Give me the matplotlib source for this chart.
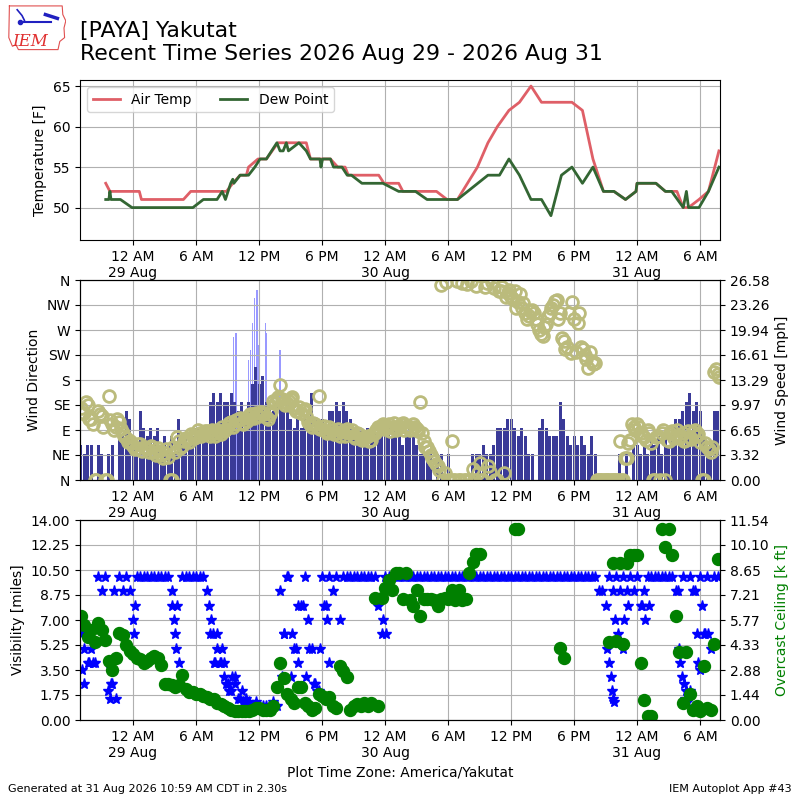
import numpy as np
import pandas as pd
import matplotlib
matplotlib.use("Agg")
import matplotlib.pyplot as plt
import matplotlib.dates as mdates
from matplotlib.ticker import FuncFormatter

nan = np.nan

# ---------------------------------------------- data
# hours relative to 29 Aug 2026 00:00 local
temp_hours = [-2.6, -2.2, 0.6, 0.8, 4.8, 5.5, 8.0, 8.9, 9.5, 10.2, 10.8, 11.0, 11.9,
              12.7, 13.8, 16.5, 16.7, 16.9, 18.8, 19.5, 20.2, 20.5, 23.4, 23.9, 25.3,
              25.7, 28.9, 29.9, 30.9, 32.8, 33.8, 34.7, 35.8, 36.8, 37.9, 38.9, 41.8,
              42.8, 43.8, 44.8, 45.8, 46.9, 47.9, 48.0, 49.8, 50.7, 51.8, 52.4, 52.9,
              53.9, 54.8, 55.8]
air_temp = [53, 52, 52, 51, 51, 52, 52, 52, 53, 54, 54, 55, 56,
            56, 58, 58, 57, 56, 56, 55, 55, 54, 54, 53, 53,
            52, 52, 51, 51, 55, 58, 60, 62, 63, 65, 63, 63,
            62, 56, 52, 52, 51, 52, 53, 53, 52, 52, 50, 50,
            51, 52, 57]

dewp_hours = [-2.6, -2.3, -2.2, -2.1, -1.2, -0.1, 5.7, 6.7, 8.0, 8.5, 8.8, 9.3, 9.5,
              9.6, 10.2, 11.0, 11.6, 12.1, 12.7, 13.2, 13.7, 14.0, 14.3, 14.6, 14.8,
              15.8, 16.5, 16.9, 17.8, 17.9, 18.05, 18.8, 19.1, 19.9, 20.4, 20.8, 21.8,
              23.8, 25.3, 26.9, 28.0, 30.9, 33.8, 34.9, 35.8, 36.8, 37.9, 38.9, 39.8,
              40.8, 41.8, 42.8, 43.8, 44.8, 45.8, 46.9, 47.9, 48.0, 49.8, 50.7, 51.3,
              52.4, 52.7, 52.9, 53.9, 54.8, 55.8]
dew_point = [51, 51, 52, 51, 51, 50, 50, 51, 51, 52, 51, 53, 53.5,
             53, 54, 54, 55, 56, 56, 57, 58, 57, 57, 58, 57,
             58, 57, 56, 56, 55, 56, 56, 55, 55, 54, 54, 53,
             53, 52, 52, 51, 51, 54, 54, 56, 54, 51, 51, 49,
             54, 55, 53, 55, 52, 52, 51, 52, 53, 53, 52, 52,
             50, 52, 50, 50, 52, 55]

# 20 minute observations starting 28 Aug 19:00, one row per hour
wind_speed = [
    4.6, 3.5, 4.6,  4.6, 0, 4.6,  3.5, 0, 3.5,  4.6, 0, 5.8,  5.8, 9.2, 8.1,
    5.8, 4.6, 9.2,  6.9, 5.8, 6.9,  5.8, 6.9, 4.6,  5.8, 4.6, 5.8,  3.5, 8.1, 5.8,
    5.8, 4.6, 5.8,  6.9, 6.9, 5.8,  6.9, 10.4, 11.5,  10.4, 11.5, 10.4,  10.4, 11.5, 10.4,
    9.2, 10.4, 9.2,  10.4, 12.7, 15.0,  12.7, 13.8, 10.4,  10.4, 9.2, 10.4,  10.4, 9.2, 9.2,
    8.1, 6.9, 8.1,  6.9, 8.1, 6.9,  11.5, 8.1, 6.9,  8.1, 6.9, 9.2,  9.2, 10.4, 9.2,
    10.4, 9.2, 8.1,  6.9, 5.8, 6.9,  5.8, 6.9, 5.8,  6.9, 5.8, 6.9,  5.8, 6.9, 5.8,
    6.9, 5.8, 4.6,  5.8, 6.9, 5.8,  4.6, 3.5, 3.5,  3.5, 3.5, 0,  3.5, 3.5, 0,
    3.5, 0, 0,  0, 0, 0,  0, 3.5, 3.5,  3.5, 4.6, 3.5,  3.5, 4.6, 6.9,
    6.9, 6.9, 8.1,  8.1, 6.9, 5.8,  6.9, 5.8, 3.5,  3.5, 0, 6.9,  8.1, 6.9, 5.8,
    5.8, 5.8, 10.4,  8.1, 5.8, 4.6,  5.8, 4.6, 5.8,  4.6, 3.5, 5.8,  3.5, 0, 0,
    0, 0, 0,  0, 3.5, 0,  3.5, 0, 4.6,  4.6, 3.5, 4.6,  3.5, 5.8, 4.6,
    5.8, 3.5, 5.8,  4.6, 6.9, 8.1,  8.1, 9.2, 10.4,  11.5, 9.2, 10.4,  9.2, 5.8, 3.5,
    4.6, 9.2, 9.2,
]
wind_dir = [
    130, 120, 135,  110, 0, 125,  115, 0, 151,  100, 95, 105,  85, 75, 70,
    62, 58, 65,  60, 55, 62,  50, 58, 45,  48, 42, 0,  50, 70, 62,
    75, 68, 80,  78, 85, 82,  88, 80, 85,  90, 82, 88,  98, 105, 100,
    108, 102, 112,  115, 118, 120,  116, 120, 114,  118, 142, 145,  171, 140, 138,
    145, 130, 125,  120, 128, 105,  95, 100, 151,  92, 88, 96,  90, 85, 80,
    88, 92, 84,  80, 85, 76,  75, 80, 72,  84, 95, 98,  92, 100, 96,
    90, 98, 102,  95, 90, 100,  92, 141, 70,  60, 45, 35,  25, 351, 12,
    0, 71, 0,  0, 355, 0,  0, 20, 350,  30, 0, 354,  15, 345, 0,
    340, 12, 336,  330, 340, 320,  310, 300, 295,  306, 290, 270,  260, 280, 300,
    315, 324, 300,  250, 240, 228,  290, 282, 240,  225, 201, 215,  210, 0, 0,
    0, 0, 0,  0, 71, 0,  39, 72, 95,  100, 85, 78,  90, 66, 0,
    80, 85, 0,  70, 88, 80,  76, 84, 72,  78, 86, 80,  68, 0, 60,
    51, 195, 190,
]
# the in-between reports, 10 minutes after each of the above
wind_dir_mid = [
    120, 140, 110,  100, 0, 118,  95, 0, 108,  90, 110, 92,  80, 68, 66,
    55, 64, 52,  58, 50, 60,  45, 52, 40,  55, 0, 60,  78, 58, 70,
    72, 82, 75,  90, 80, 88,  84, 90, 80,  86, 95, 92,  102, 96, 108,
    112, 100, 106,  118, 112, 116,  122, 118, 110,  125, 138, 150,  145, 135, 142,
    150, 125, 132,  126, 115, 100,  102, 96, 92,  98, 84, 90,  82, 92, 86,
    80, 86, 90,  76, 82, 72,  78, 70, 82,  90, 92, 100,  96, 88, 102,
    94, 100, 90,  98, 92, 96,  88, 84, 60,  52, 40, 28,  18, 0, 356,
    0, 0, 358,  0, 0, 352,  358, 0, 12,  0, 348, 25,  356, 0, 340,
    348, 330, 342,  325, 310, 335,  318, 290, 305,  300, 280, 262,  275, 295, 310,
    322, 290, 255,  235, 300, 320,  230, 300, 235,  218, 230, 208,  0, 0, 0,
    0, 0, 0,  0, 0, 39,  66, 100, 90,  96, 80, 72,  84, 0, 78,
    0, 90, 72,  84, 76, 90,  80, 70, 88,  74, 90, 82,  0, 66, 56,
    60, 200, 186,
]
gust_hours = [9.6, 9.8, 11.0, 11.2, 11.4, 11.6, 11.8, 12.0, 12.6, 12.7, 14.0]
wind_gust = [19.0, 19.5, 16.0, 17.3, 20.8, 24.2, 25.3, 18.0, 20.8, 19.6, 17.3]

visibility = [
    6, 5, 4,  5, 4, 10,  9, 10, 4,  2.5, 1.5, 10,  9, 10, 9,
    7, 10, 10,  10, 10, 10,  10, 10, 10,  10, 10, 9,  6, 4, 10,
    10, 10, 10,  10, 10, 10,  9, 6, 4,  5, 4, 3,  2.5, 2, 3,
    1.5, 2, 1.25,  1.25, 1, 1.25,  1, 1, 1,  1, 1.25, 1,  9, 6, 10,
    3, 5, 4,  8, 10, 7,  5, 2.5, 2,  10, 8, 4,  9, 10, 7,
    10, 10, 10,  10, 10, 10,  10, 10, 10,  10, 8, 6,  10, 10, 10,
    10, 10, 10,  10, 10, 10,  10, 10, 10,  10, 10, 10,  10, 10, 10,
    10, 10, 10,  10, 10, 10,  10, 10, 10,  10, 10, 10,  10, 10, 10,
    10, 10, 10,  10, 10, 10,  10, 10, 10,  10, 10, 10,  10, 10, 10,
    10, 10, 10,  10, 10, 10,  10, 10, 10,  10, 10, 10,  10, 9, 9,
    8, 10, 9,  10, 9, 10,  9, 10, 9,  10, 8, 9,  10, 10, 10,
    10, 10, 10,  10, 10, 9,  5, 10, 2,  10, 9, 6,  10, 6, 10,
    5, 10, 10,
]
vis_special_hours = [-4.9, -4.7, -4.2, -3.8, -2.4, -2.2, -2.1, -1.8, 0.1, 0.2, 3.7, 3.9,
                     4.1, 4.2, 7.2, 7.4, 7.6, 7.8, 8.0, 8.3, 8.5, 8.7, 8.9, 9.1, 9.4,
                     9.7, 10.2, 10.5, 10.8, 14.2, 14.4, 14.8, 15.1, 15.5, 15.7, 16.2,
                     16.5, 16.8, 17.2, 17.5, 17.8, 18.2, 18.5, 18.7, 23.8, 24.1, 45.1,
                     45.3, 45.5, 45.6, 45.7, 45.8, 45.9, 46.2, 46.7, 46.8, 47.1, 48.5,
                     48.8, 49.1, 51.9, 52.1, 52.3, 52.5, 52.6, 52.8, 53.0, 53.5, 53.8,
                     54.0, 54.2, 54.5, 54.8]
vis_special = [3.5, 2.5, 4, 4, 2, 1.5, 2.5, 9, 6, 8, 8, 7,
               5, 8, 8, 7, 6, 4, 6, 4, 5, 4, 2.5, 2, 3,
               2.5, 1.5, 1.25, 1.5, 3, 6, 10, 6, 5, 8, 8,
               3, 5, 2.5, 2, 5, 8, 7, 10, 7, 6, 5,
               4, 3, 2, 1.5, 1.25, 7, 6, 5, 7, 8, 8,
               7, 8, 9, 4, 3, 2.5, 1.5, 1.25, 2, 9, 4,
               3.5, 8, 6, 6]

ceiling = [
    6.0, 5.5, 4.8,  5.2, 4.5, 5.6,  5.2, 4.6, 3.4,  2.9, 3.6, 5.0,  4.9, 4.3, 4.0,
    3.8, 3.6, 3.5,  3.3, 3.4, 3.6,  3.7, 3.6, 3.2,  2.1, 2.1, 2.0,  1.9, 2.0, 2.6,
    1.8, 1.6, 1.6,  1.5, 1.5, 1.4,  1.3, 1.2, 1.2,  1.0, 0.9, 0.8,  0.7, 0.6, 0.5,
    0.5, 0.5, 0.5,  0.5, 0.6, 0.7,  0.7, 0.6, 0.6,  0.6, 0.8, 1.9,  3.3, 2.4, 1.5,
    1.2, 1.0, 1.9,  1.9, 1.0, 0.8,  0.6, 0.7, 1.5,  1.4, 1.2, 1.3,  0.8, 0.7, 3.1,
    2.8, 2.5, 0.6,  0.8, 0.9, 0.8,  1.0, 0.8, 1.0,  7.05, 0.8, 7.05,  7.6, 8.1, 7.5,
    8.5, 8.5, 7.0,  8.5, 6.9, 6.6,  7.5, 6.0, 7.0,  7.0, 7.0, 6.95,  6.6, 7.0, 7.05,
    7.0, 7.5, 6.95,  7.5, 6.95, 7.0,  8.5, 9.1, 9.55,  9.55, nan, nan,  nan, nan, nan,
    nan, nan, nan,  nan, 11.0, 11.0,  nan, nan, nan,  nan, nan, nan,  nan, nan, nan,
    nan, nan, 4.15,  3.6, nan, nan,  nan, nan, nan,  nan, nan, nan,  nan, nan, nan,
    nan, 4.5, 9.05,  4.55, 9.05, 4.4,  9.05, 9.5, 9.5,  9.5, 3.3, 1.15,  0.25, 0.25, nan,
    nan, 11.0, 10.0,  11.0, 9.5, 6.0,  3.95, 1.0, 3.9,  1.5, 0.6, 0.8,  0.5, 3.1, 0.7,
    0.6, 4.4, 9.3,
]

dir_labels = ["N", "NE", "E", "SE", "S", "SW", "W", "NW", "N"]
speed_labels = ["0.00", "3.32", "6.65", "9.97", "13.29", "16.61", "19.94", "23.26", "26.58"]
ceil_labels = ["0.00", "1.44", "2.88", "4.33", "5.77", "7.21", "8.65", "10.10", "11.54"]

# ---------------------------------------------- times
base = pd.Timestamp("2026-08-29 00:00")
def to_time(hours):
    return base + pd.to_timedelta(np.asarray(hours, dtype=float), unit="h")

obs_times = pd.date_range("2026-08-28 19:00", periods=183, freq="20min")
mid_times = obs_times + pd.Timedelta(minutes=10)
x0 = pd.Timestamp("2026-08-28 18:57")
x1 = pd.Timestamp("2026-08-31 07:54")


def time_fmt(x, pos):
    d = mdates.num2date(x)
    h = d.hour
    if h == 0:
        return "12 AM\n%d Aug" % d.day
    return "%d %s" % (h % 12 or 12, "AM" if h < 12 else "PM")


def setup_time(ax):
    ax.set_xlim(x0, x1)
    ax.xaxis.set_major_locator(mdates.HourLocator(byhour=[0, 6, 12, 18]))
    ax.xaxis.set_major_formatter(FuncFormatter(time_fmt))
    ax.grid(True, color="#b0b0b0", lw=0.8)


fig = plt.figure(figsize=(8, 8), dpi=100)

# title + logo
fig.text(0.1, 0.974, "[PAYA] Yakutat\nRecent Time Series 2026 Aug 29 - 2026 Aug 31",
         fontsize=15.8, va="top", ha="left")
lax = fig.add_axes([0.008, 0.935, 0.075, 0.06])
lax.set_xlim(0, 10)
lax.set_ylim(0, 10)
lax.axis("off")
lax.plot([0.5, 9.3, 9.4, 9.9, 9.6, 9.7, 8.9, 8.6, 2.0, 1.6, 1.0, 0.4, 0.5],
         [9.6, 9.6, 7.8, 6.5, 5.0, 3.0, 2.2, 0.5, 0.5, 1.5, 1.2, 3.0, 9.6],
         color="#e05050", lw=0.8)
lax.plot([2.2, 7.5], [6.3, 6.3], color="#2020c0", lw=1.5)
lax.plot([2.2], [6.3], "o", color="#2020c0", ms=3)
lax.plot([1.8, 2.6, 3.0], [8.8, 7.6, 6.6], color="#2020c0", lw=1.2)
lax.plot([6.5, 8.5], [7.8, 7.0], color="#2020c0", lw=2.5)
lax.text(1.0, 1.2, "IEM", color="#e03030", fontsize=12, style="italic", family="serif")

# ---------------------------------------------- temperature
ax1 = fig.add_axes([0.1, 0.7, 0.8, 0.2])
ax1.plot(to_time(temp_hours), air_temp, color="#df5f67", lw=2, label="Air Temp")
ax1.plot(to_time(dewp_hours), dew_point, color="#336633", lw=2, label="Dew Point")
ax1.set_ylim(46, 65.75)
ax1.set_yticks([50, 55, 60, 65])
ax1.set_ylabel("Temperature [F]")
setup_time(ax1)
ax1.legend(loc="upper left", ncol=2)

# ---------------------------------------------- wind
ax2 = fig.add_axes([0.1, 0.4, 0.8, 0.25])
ax2b = ax2.twinx()
ax2b.bar(to_time(gust_hours), wind_gust, width=7.0 / 1440, color="#9999ff", lw=0)
ax2b.bar(obs_times, wind_speed, width=17.0 / 1440, color="#3a3a98", lw=0)
ax2b.set_ylim(0, 26.58)
ax2b.set_yticks(np.linspace(0, 26.58, 9))
ax2b.set_yticklabels(speed_labels)
ax2b.set_ylabel("Wind Speed [mph]")
for t, d in ((obs_times, wind_dir), (mid_times, wind_dir_mid)):
    ax2.plot(t, d, "o", mfc="none", mec="#bbbb7c", mew=2, ms=8.5)
ax2.set_ylim(0, 360)
ax2.set_yticks(np.arange(0, 361, 45))
ax2.set_yticklabels(dir_labels)
ax2.set_ylabel("Wind Direction")
ax2.set_zorder(ax2b.get_zorder() + 1)
ax2.patch.set_visible(False)
setup_time(ax2)

# ---------------------------------------------- visibility / ceiling
ax3 = fig.add_axes([0.1, 0.1, 0.8, 0.25])
ax3.plot(obs_times, visibility, "*", color="b", ms=8, lw=0)
ax3.plot(to_time(vis_special_hours), vis_special, "*", color="b", ms=8, lw=0)
ax3.set_ylim(0, 14)
ax3.set_yticks(np.arange(0, 14.01, 1.75))
ax3.yaxis.set_major_formatter(FuncFormatter(lambda v, p: "%.2f" % v))
ax3.set_ylabel("Visibility [miles]")
setup_time(ax3)
ax3.set_xlabel("Plot Time Zone: America/Yakutat")
ax3b = ax3.twinx()
ax3b.plot(obs_times, ceiling, "o", color="g", ms=8.6, lw=0)
ax3b.set_ylim(0, 11.54)
ax3b.set_yticks(np.linspace(0, 11.54, 9))
ax3b.set_yticklabels(ceil_labels)
ax3b.set_ylabel("Overcast Ceiling [k ft]", color="g")
ax3b.set_xlim(x0, x1)

fig.text(0.01, 0.01, "Generated at 31 Aug 2026 10:59 AM CDT in 2.30s", fontsize=8)
fig.text(0.99, 0.01, "IEM Autoplot App #43", fontsize=8, ha="right")

fig.savefig("out.png", dpi=100)
